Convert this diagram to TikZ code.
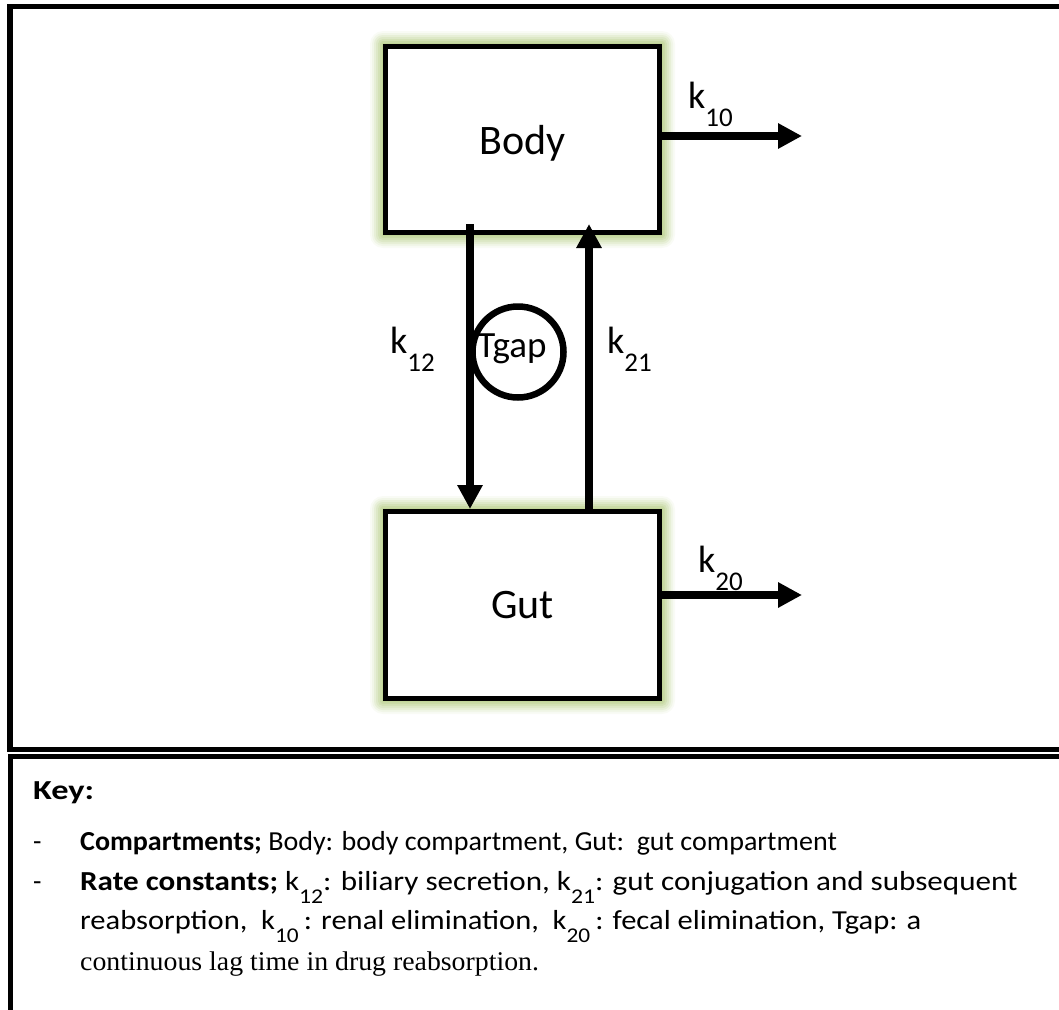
\documentclass[tikz,border=0pt]{standalone}
\usepackage{graphicx}
\usepackage{fontspec}
\setmainfont{Carlito}
\newfontfamily\keyserif{Liberation Serif}
\usetikzlibrary{arrows.meta,backgrounds}
\definecolor{glowgreen}{RGB}{155,187,89}
% rate constant k with a lowered index: #1 index, #2 index size, #3 drop
\newcommand\ksub[3]{k\raisebox{-#3}{\fontsize{#2}{#2}\selectfont #1}}
% key line stretched to its printed width
\newcommand\wide[2]{\scalebox{#1}[1]{#2}}
% soft green halo behind a compartment box
\newcommand\halo[1]{%
  \begin{scope}[on background layer]
    \foreach \d/\p in {13/6,11/14,9/24,7/34,5/44,3/54,1/62}{
      \fill[glowgreen!\p!white,rounded corners=\d pt]
        ([shift={(-\d,-\d)}]#1.north west) rectangle ([shift={(\d,\d)}]#1.south east);
    }
  \end{scope}}

\begin{document}
\begin{tikzpicture}[x=1pt,y=-1pt,
  frame/.style={draw=black,line width=5.5pt},
  compartment/.style={draw=black,fill=white,line width=5pt,minimum width=274pt,
    minimum height=186pt,inner sep=0pt,font=\fontsize{42}{50}\selectfont,text depth=0pt},
  flow/.style={line width=8pt,-{Triangle[length=24pt,width=24pt]}},
  rate/.style={anchor=base west,inner sep=0pt,font=\fontsize{38}{40}\selectfont},
  keytext/.style={anchor=base west,inner sep=0pt,font=\fontsize{27.5}{30}\selectfont},
]
\useasboundingbox (0,0) rectangle (1059,1009);
\clip (0,0) rectangle (1059,1009);

% outer frames: model panel and key panel
\draw[frame] (10,6.5) rectangle (1090,749.3);
\draw[frame] (10.3,756.7) rectangle (1090,1100);

% compartments
\node[compartment] (body) at (522.5,139.5) {Body};
\node[compartment,minimum height=187pt] (gut) at (522.5,605) {Gut};
\halo{body}
\halo{gut}

% lag-time circle
\node[draw,circle,line width=6.5pt,minimum size=91pt,inner sep=0pt] (tgap) at (518,352) {};
\node[anchor=base,inner sep=0pt,font=\fontsize{37}{40}\selectfont] (tgaptext) at (512,357) {Tgap};

% transfers between compartments
\draw[flow] ([xshift=-52.5pt,yshift=11pt]body.south) -- ([xshift=-52.5pt]gut.north);
\draw[flow] ([xshift=66.5pt]gut.north) -- ([xshift=66.5pt,yshift=11pt]body.south);

% eliminations
\coordinate (k10end) at (802,136);
\coordinate (k20end) at (802,595);
\draw[flow] (body.east |- k10end) -- (k10end);
\draw[flow] (gut.east |- k20end) -- (k20end);

% rate labels
\node[rate] (k10) at (688,108) {\ksub{10}{27}{18pt}};
\node[rate] (k20) at (698,572) {\ksub{20}{27}{18pt}};
\node[rate] (k12) at (390,353) {\ksub{12}{27}{18pt}};
\node[rate] (k21) at (607,353) {\ksub{21}{27}{18pt}};

% key
\node[keytext,font=\bfseries\fontsize{27.5}{30}\selectfont] (keyhead) at (33,799) {\wide{1.25}{Key:}};
\node[keytext] (dash1) at (33,850) {-};
\node[keytext] (dash2) at (33,890) {-};
\node[keytext] (line1) at (80,850) {\wide{1.02}{\textbf{Compartments;} Body: body compartment, Gut:\ \ gut compartment}};
\node[keytext] (line2) at (80,890) {\wide{1.13}{\textbf{Rate constants;} \ksub{12}{21}{13pt}: biliary secretion, \ksub{21}{21}{13pt}: gut conjugation and subsequent}};
\node[keytext] (line3) at (80,929) {\wide{1.11}{reabsorption,\ \ \ksub{10}{21}{13pt}\,: renal elimination,\ \ \ksub{20}{21}{13pt}\,: fecal elimination, Tgap: a}};
\node[keytext,font=\keyserif\fontsize{27}{30}\selectfont] (line4) at (80,970) {\wide{1.03}{continuous lag time in drug reabsorption.}};
\end{tikzpicture}
\end{document}
